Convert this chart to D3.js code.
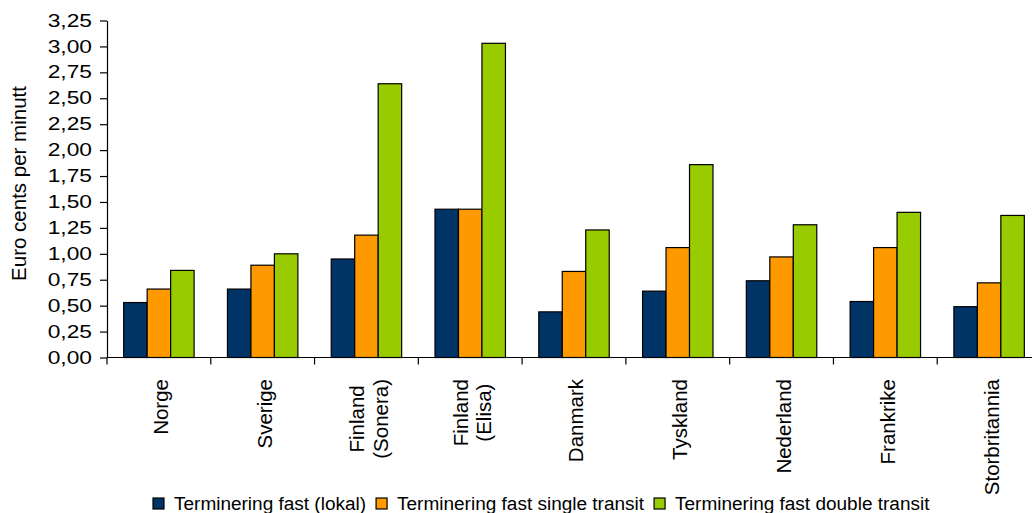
<!DOCTYPE html>
<html>
<head>
<meta charset="utf-8">
<script src="https://cdn.jsdelivr.net/npm/d3@7/dist/d3.min.js"></script>
<style>
  html, body { margin: 0; padding: 0; background: #ffffff; }
  svg { display: block; }
  text { font-family: "Liberation Sans", Arial, sans-serif; fill: #000; }
</style>
</head>
<body>
<svg id="chart" width="1032" height="513"></svg>
<script>
// Termination rates per country (euro cents per minute)
const categories = [
  ["Norge"],
  ["Sverige"],
  ["Finland", "(Sonera)"],
  ["Finland", "(Elisa)"],
  ["Danmark"],
  ["Tyskland"],
  ["Nederland"],
  ["Frankrike"],
  ["Storbritannia"]
];
const seriesNames = [
  "Terminering fast (lokal)",
  "Terminering fast single transit",
  "Terminering fast double transit"
];
const lokal        = [0.53, 0.66, 0.95, 1.43, 0.44, 0.64, 0.74, 0.54, 0.49];
const singleTransit = [0.66, 0.89, 1.18, 1.43, 0.83, 1.06, 0.97, 1.06, 0.72];
const doubleTransit = [0.84, 1.00, 2.64, 3.03, 1.23, 1.86, 1.28, 1.40, 1.37];
const yTicks = [0, 0.25, 0.5, 0.75, 1, 1.25, 1.5, 1.75, 2, 2.25, 2.5, 2.75, 3, 3.25];
const yTitle = "Euro cents per minutt";
const colors = ["#003366", "#ff9900", "#99cc00"];

const seriesValues = [lokal, singleTransit, doubleTransit];
const catKeys = categories.map(c => c.join(" "));

const svg = d3.select("#chart");

const plot = { left: 107, right: 1041, top: 20.5, bottom: 357.5 };

const x0 = d3.scaleBand().domain(catKeys).range([plot.left, plot.right]).padding(0);
const x1 = d3.scaleBand().domain(seriesNames).range([0, x0.bandwidth()])
  .paddingInner(0).paddingOuter(0.71);
const y = d3.scaleLinear().domain([0, 3.25]).range([plot.bottom, plot.top]);

// Bars
const groups = svg.append("g").selectAll("g")
  .data(catKeys)
  .join("g")
  .attr("transform", d => `translate(${x0(d)},0)`);

groups.selectAll("rect")
  .data((d, i) => seriesNames.map((s, j) => ({ s, j, v: seriesValues[j][i] })))
  .join("rect")
  .attr("x", d => x1(d.s))
  .attr("y", d => y(d.v))
  .attr("width", x1.bandwidth())
  .attr("height", d => y(0) - y(d.v))
  .attr("fill", d => colors[d.j])
  .attr("stroke", "#000")
  .attr("stroke-width", 1.2);

// Y axis
const yAxis = svg.append("g")
  .attr("transform", `translate(${plot.left},0)`)
  .call(d3.axisLeft(y)
    .tickValues(yTicks)
    .tickFormat(d => d.toFixed(2).replace(".", ","))
    .tickSize(7)
    .tickSizeOuter(0)
    .tickPadding(8));
yAxis.selectAll("path, line").attr("stroke", "#000").attr("stroke-width", 1.2);
yAxis.selectAll("text")
  .style("font-family", "'Liberation Sans', Arial, sans-serif")
  .style("font-size", "17.5px")
  .attr("fill", "#000")
  .each(function () {
    const w = this.getComputedTextLength();
    d3.select(this).attr("textLength", w * 1.3).attr("lengthAdjust", "spacingAndGlyphs");
  });

// X axis baseline with boundary ticks
const xAxis = svg.append("g");
xAxis.append("line")
  .attr("x1", plot.left).attr("x2", plot.right)
  .attr("y1", y(0)).attr("y2", y(0))
  .attr("stroke", "#000").attr("stroke-width", 1.2);
const boundaries = catKeys.map(k => x0(k)).concat([x0.range()[1]]);
xAxis.selectAll("line.tick")
  .data(boundaries)
  .join("line")
  .attr("class", "tick")
  .attr("x1", d => d).attr("x2", d => d)
  .attr("y1", y(0)).attr("y2", y(0) + 7)
  .attr("stroke", "#000").attr("stroke-width", 1.2);

// Rotated category labels (multi-line labels centred within their block)
const labelFont = 20.5;
const lineH = 23.5;
const labelTop = 379;
categories.forEach((lines, i) => {
  const cx = x0(catKeys[i]) + x0.bandwidth() / 2 + 2;
  const g = svg.append("g").attr("transform", `translate(${cx},${labelTop}) rotate(-90)`);
  const texts = lines.map((ln, k) => g.append("text")
    .attr("text-anchor", "middle")
    .style("font-size", labelFont + "px")
    .attr("y", (k - (lines.length - 1) / 2) * lineH)
    .attr("dy", "0.36em")
    .text(ln));
  const maxLen = d3.max(texts, t => t.node().getComputedTextLength());
  texts.forEach(t => t.attr("x", -maxLen / 2));
});

// Y axis title
svg.append("text")
  .attr("transform", `translate(19,183.5) rotate(-90)`)
  .attr("text-anchor", "middle")
  .attr("dy", "0.36em")
  .style("font-size", "20.5px")
  .text(yTitle);

// Legend
const legend = svg.append("g");
let lx = 153;
const legendY = 509.5;
seriesNames.forEach((name, j) => {
  legend.append("rect")
    .attr("x", lx).attr("y", legendY - 11.5)
    .attr("width", 11).attr("height", 11)
    .attr("fill", colors[j])
    .attr("stroke", "#000").attr("stroke-width", 1.2);
  lx += 11 + 10;
  const t = legend.append("text")
    .attr("x", lx).attr("y", legendY)
    .style("font-size", "18px")
    .text(name);
  const w = t.node().getComputedTextLength() * 1.055;
  t.attr("textLength", w).attr("lengthAdjust", "spacingAndGlyphs");
  lx += w + 10;
});
</script>
</body>
</html>
